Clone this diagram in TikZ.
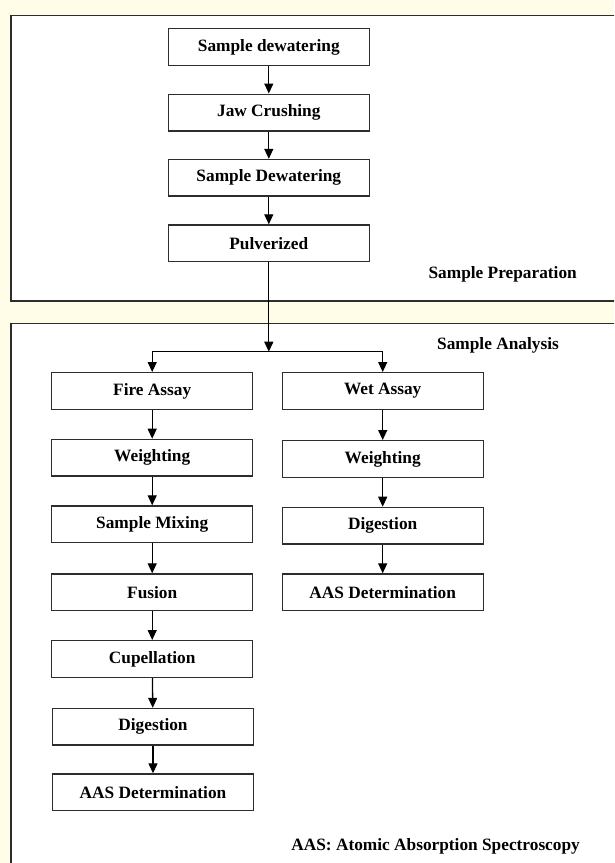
\documentclass[tikz,border=0pt]{standalone}
\usepackage{fontspec}
\setmainfont{Liberation Serif}
\usetikzlibrary{arrows.meta}
\definecolor{paper}{RGB}{255,252,232}
\definecolor{edge}{RGB}{45,45,45}
\newcommand{\flowdown}[2]{\draw[arrow] (#1) -- (#2);}

\begin{document}
\begin{tikzpicture}
                [x=1pt,y=-1pt,
                box/.style={rectangle,draw=edge,line width=1.4pt,fill=white,minimum width=201pt,minimum height=36.6pt,inner sep=0pt,font=\fontsize{17.3}{20}\selectfont\bfseries},
                frame/.style={draw=edge,line width=1.4pt,fill=white},
                tag/.style={font=\fontsize{17.3}{20}\selectfont\bfseries,inner sep=0pt},
                arrow/.style={-{Triangle[length=10pt,width=9pt]},line width=1.3pt,draw=black},
                ]
                \useasboundingbox (0,0) rectangle (614,863);
                \clip (0,0) rectangle (614,863);
                \fill[paper] (0,0) rectangle (614,863);
                % the two panels
                \draw[frame] (11,15.7) rectangle (630,301);
                \draw[frame] (11,323.3) rectangle (630,880);
                \node[tag] (prep) at (502.7,274) {Sample Preparation};
                \node[tag] (anal) at (498,345.7) {Sample Analysis};
                \node[tag] (note) at (435.6,846.7) {AAS: Atomic Absorption Spectroscopy};
                % preparation
                \node[box] (dew1) at (268.8,47) {Sample dewatering};
                \node[box] (jaw) at (268.8,112.5) {Jaw Crushing};
                \node[box] (dew2) at (268.8,177.8) {Sample Dewatering};
                \node[box] (pulv) at (268.8,243.3) {Pulverized};
                \flowdown{dew1}{jaw}
                \flowdown{jaw}{dew2}
                \flowdown{dew2}{pulv}
                % fire assay
                \node[box] (fire) at (152.2,391) {Fire Assay};
                \node[box] (fweigh) at (152.2,457.7) {Weighting};
                \node[box] (mix) at (152.2,524.3) {Sample Mixing};
                \node[box] (fusion) at (152.2,592.3) {Fusion};
                \node[box] (cup) at (152.2,659) {Cupellation};
                \node[box] (fdig) at (153,726.8) {Digestion};
                \node[box] (faas) at (153,792.3) {AAS Determination};
                % wet assay
                \node[box] (wet) at (382.7,391) {Wet Assay};
                \node[box] (wweigh) at (382.7,459) {Weighting};
                \node[box] (wdig) at (382.7,525.7) {Digestion};
                \node[box] (waas) at (382.7,592.3) {AAS Determination};
                % split
                \coordinate (split) at (268.8,351.7);
                \draw[arrow] (pulv) -- (split);
                \draw[arrow] (split) -| (fire);
                \draw[arrow] (split) -| (wet);
                \flowdown{fire}{fweigh}
                \flowdown{fweigh}{mix}
                \flowdown{mix}{fusion}
                \flowdown{fusion}{cup}
                \flowdown{cup}{fdig}
                \flowdown{fdig}{faas}
                \flowdown{wet}{wweigh}
                \flowdown{wweigh}{wdig}
                \flowdown{wdig}{waas}
            \end{tikzpicture}
\end{document}
